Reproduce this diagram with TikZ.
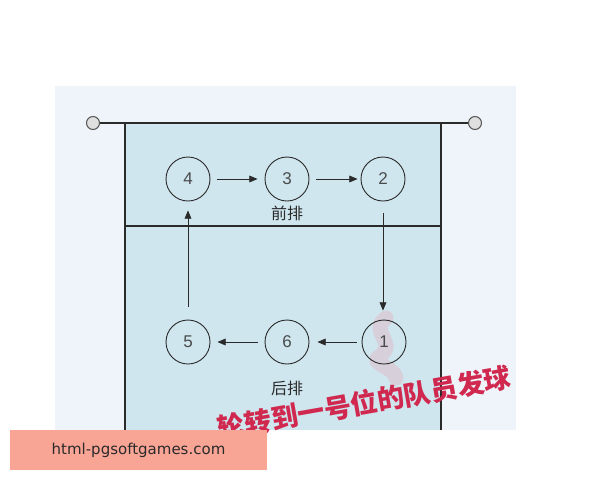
\documentclass[tikz,border=0pt]{standalone}
\usepackage{fontspec}
\setmainfont{Liberation Sans}
\newfontfamily\cjk{Noto Sans CJK SC}
\newfontfamily\urlfont{DejaVu Sans}
\usetikzlibrary{arrows}
\definecolor{panel}{HTML}{EEF4FA}
\definecolor{court}{HTML}{CFE6EF}
\definecolor{stamp}{HTML}{D0284E}
\definecolor{tagfill}{HTML}{F8A596}
\definecolor{ink}{HTML}{2A2A2A}

\begin{document}
\begin{tikzpicture}[x=1pt, y=-1pt,
					>=triangle 45,
					line width=0.9pt,
					player/.style={circle, draw=ink, line width=0.9pt, minimum size=44pt, inner sep=0pt, font=\fontsize{17}{17}\selectfont, text=ink!85},
					rowlabel/.style={font=\cjk\fontsize{16}{16}\selectfont, text=ink},
					post/.style={circle, draw=ink!80, line width=1pt, fill=gray!25, minimum size=13pt, inner sep=0pt},
					serve/.style={font=\cjk\bfseries\fontsize{27}{27}\selectfont, text=stamp, inner sep=0pt},
					tag/.style={fill=tagfill, minimum width=257pt, minimum height=40pt, font=\urlfont\fontsize{15}{15}\selectfont, text=ink}]

	\useasboundingbox[fill=white] (0,0) rectangle (600,480);
	\fill[panel] (55,86) rectangle (516,430);
	\fill[court] (125,123) rectangle (441,430);
	\draw[ink, line width=1.1pt] (125,430) -- (125,123) -- (441,123) -- (441,430);
	\draw[ink, line width=1.1pt] (125,226) -- (441,226);

	% net posts
	\node[post] (netL) at (93,123) {};
	\node[post] (netR) at (475,123) {};
	\draw[ink, line width=1.1pt] (netL) -- (netR);

	% smear round position 1
	\draw[line width=15pt, stamp!45, opacity=0.3, line cap=round]
		(386,318) .. controls (368,332) and (398,342) .. (380,356)
		.. controls (368,364) and (394,366) .. (396,378);

	\node[player] (p4) at (188,179) {4};
	\node[player] (p3) at (287,179) {3};
	\node[player] (p2) at (383,179) {2};
	\node[player] (p5) at (188,342) {5};
	\node[player] (p6) at (287,342) {6};
	\node[player] (p1) at (384,342) {1};

	\node[rowlabel] (front) at (287,213) {前排};
	\node[rowlabel] (back) at (287,388) {后排};

	\draw[->, ink] ([xshift=7pt]p4.east) -- ([xshift=-7pt]p3.west);
	\draw[->, ink] ([xshift=7pt]p3.east) -- ([xshift=-3pt]p2.west);
	\draw[->, ink] ([yshift=-12pt]p2.south) -- ([yshift=9pt]p2.south |- p1.north);
	\draw[->, ink] ([xshift=-5pt]p1.west) -- ([xshift=8pt]p6.east);
	\draw[->, ink] ([xshift=-7pt]p6.west) -- ([xshift=7pt]p5.east);
	\draw[->, ink] ([yshift=13pt]p5.north) -- ([yshift=-9pt]p4.south);

	\node[serve, rotate=10, anchor=east] (motto) at (511,377) {轮转到一号位的队员发球};

	\node[tag] (site) at (138.5,450) {html-pgsoftgames.com};
\end{tikzpicture}
\end{document}
